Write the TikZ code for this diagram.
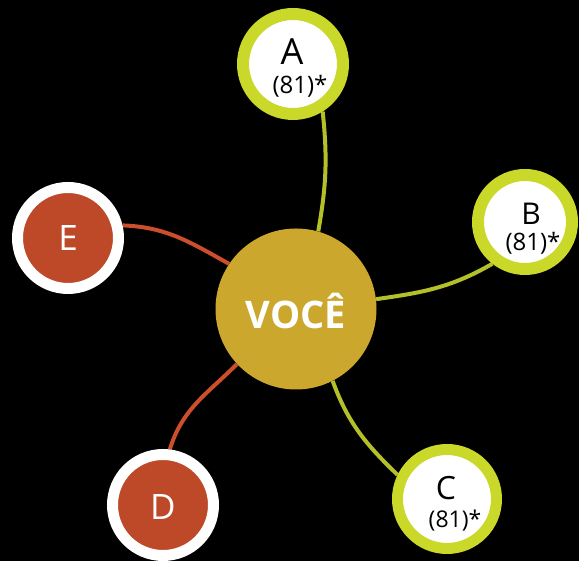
\documentclass[tikz,border=0pt]{standalone}
\usepackage{fontspec}
\setmainfont{Open Sans}
\usetikzlibrary{backgrounds}
\definecolor{ringgreen}{RGB}{202,216,42}
\definecolor{linegreen}{RGB}{180,192,40}
\definecolor{gold}{RGB}{203,167,45}
\definecolor{rust}{RGB}{190,73,40}
\definecolor{linerust}{RGB}{204,78,44}
\tikzset{
  greenring/.style={circle, draw=ringgreen, fill=white, line width=12pt, minimum size=100pt, inner sep=0pt},
  redring/.style={circle, draw=white, fill=rust, line width=11pt, minimum size=101pt, inner sep=0pt},
  center/.style={circle, fill=gold, minimum size=161pt, inner sep=0pt},
  gconn/.style={draw=linegreen, line width=4pt},
  rconn/.style={draw=linerust, line width=4pt},
  lbl/.style={inner sep=0pt, text=black},
}
\begin{document}
\begin{tikzpicture}[x=1pt,y=1pt]
\begin{scope}[on background layer]
\fill[black] (0,0) rectangle (579,561);
\end{scope}
\useasboundingbox (0,0) rectangle (579,561);
\node[center] (V) at (296,252) {};
\node[font=\bfseries\fontsize{38}{38}\selectfont, text=white] (Vt) at (296,250) {VOCÊ};
\node[greenring] (A) at (293,497) {};
\node[greenring, minimum size=94pt] (B) at (525,339) {};
\node[greenring, minimum size=99pt, line width=11pt] (C) at (447,62) {};
\node[redring] (E) at (68,323) {};
\node[redring] (D) at (163,56) {};
\node[lbl, font=\fontsize{36}{36}\selectfont] (At) at (292,509) {A};
\node[lbl, font=\fontsize{24}{24}\selectfont] (An) at (300,475) {(81)*};
\node[lbl, font=\fontsize{30}{30}\selectfont] (Bt) at (531,347) {B};
\node[lbl, font=\fontsize{24}{24}\selectfont] (Bn) at (533,318) {(81)*};
\node[lbl, font=\fontsize{32}{32}\selectfont] (Ct) at (446,73) {C};
\node[lbl, font=\fontsize{23}{23}\selectfont] (Cn) at (455,40) {(81)*};
\node[lbl, text=white, font=\fontsize{35}{35}\selectfont] (Et) at (68,323) {E};
\node[lbl, text=white, font=\fontsize{35}{35}\selectfont] (Dt) at (163,54) {D};
\begin{scope}[on background layer]
\draw[gconn] (A.-58) to[out=-84, in=80] (V.74);
\draw[gconn] (B.-128) to[out=-150, in=8] (V.7);
\draw[gconn] (V.-63) to[out=-70, in=136] (C.154);
\draw[rconn] (E.13) to[out=-2, in=151] (V.146);
\draw[rconn] (V.-137) to[out=-135, in=73] (D.83);
\end{scope}
\end{tikzpicture}
\end{document}
